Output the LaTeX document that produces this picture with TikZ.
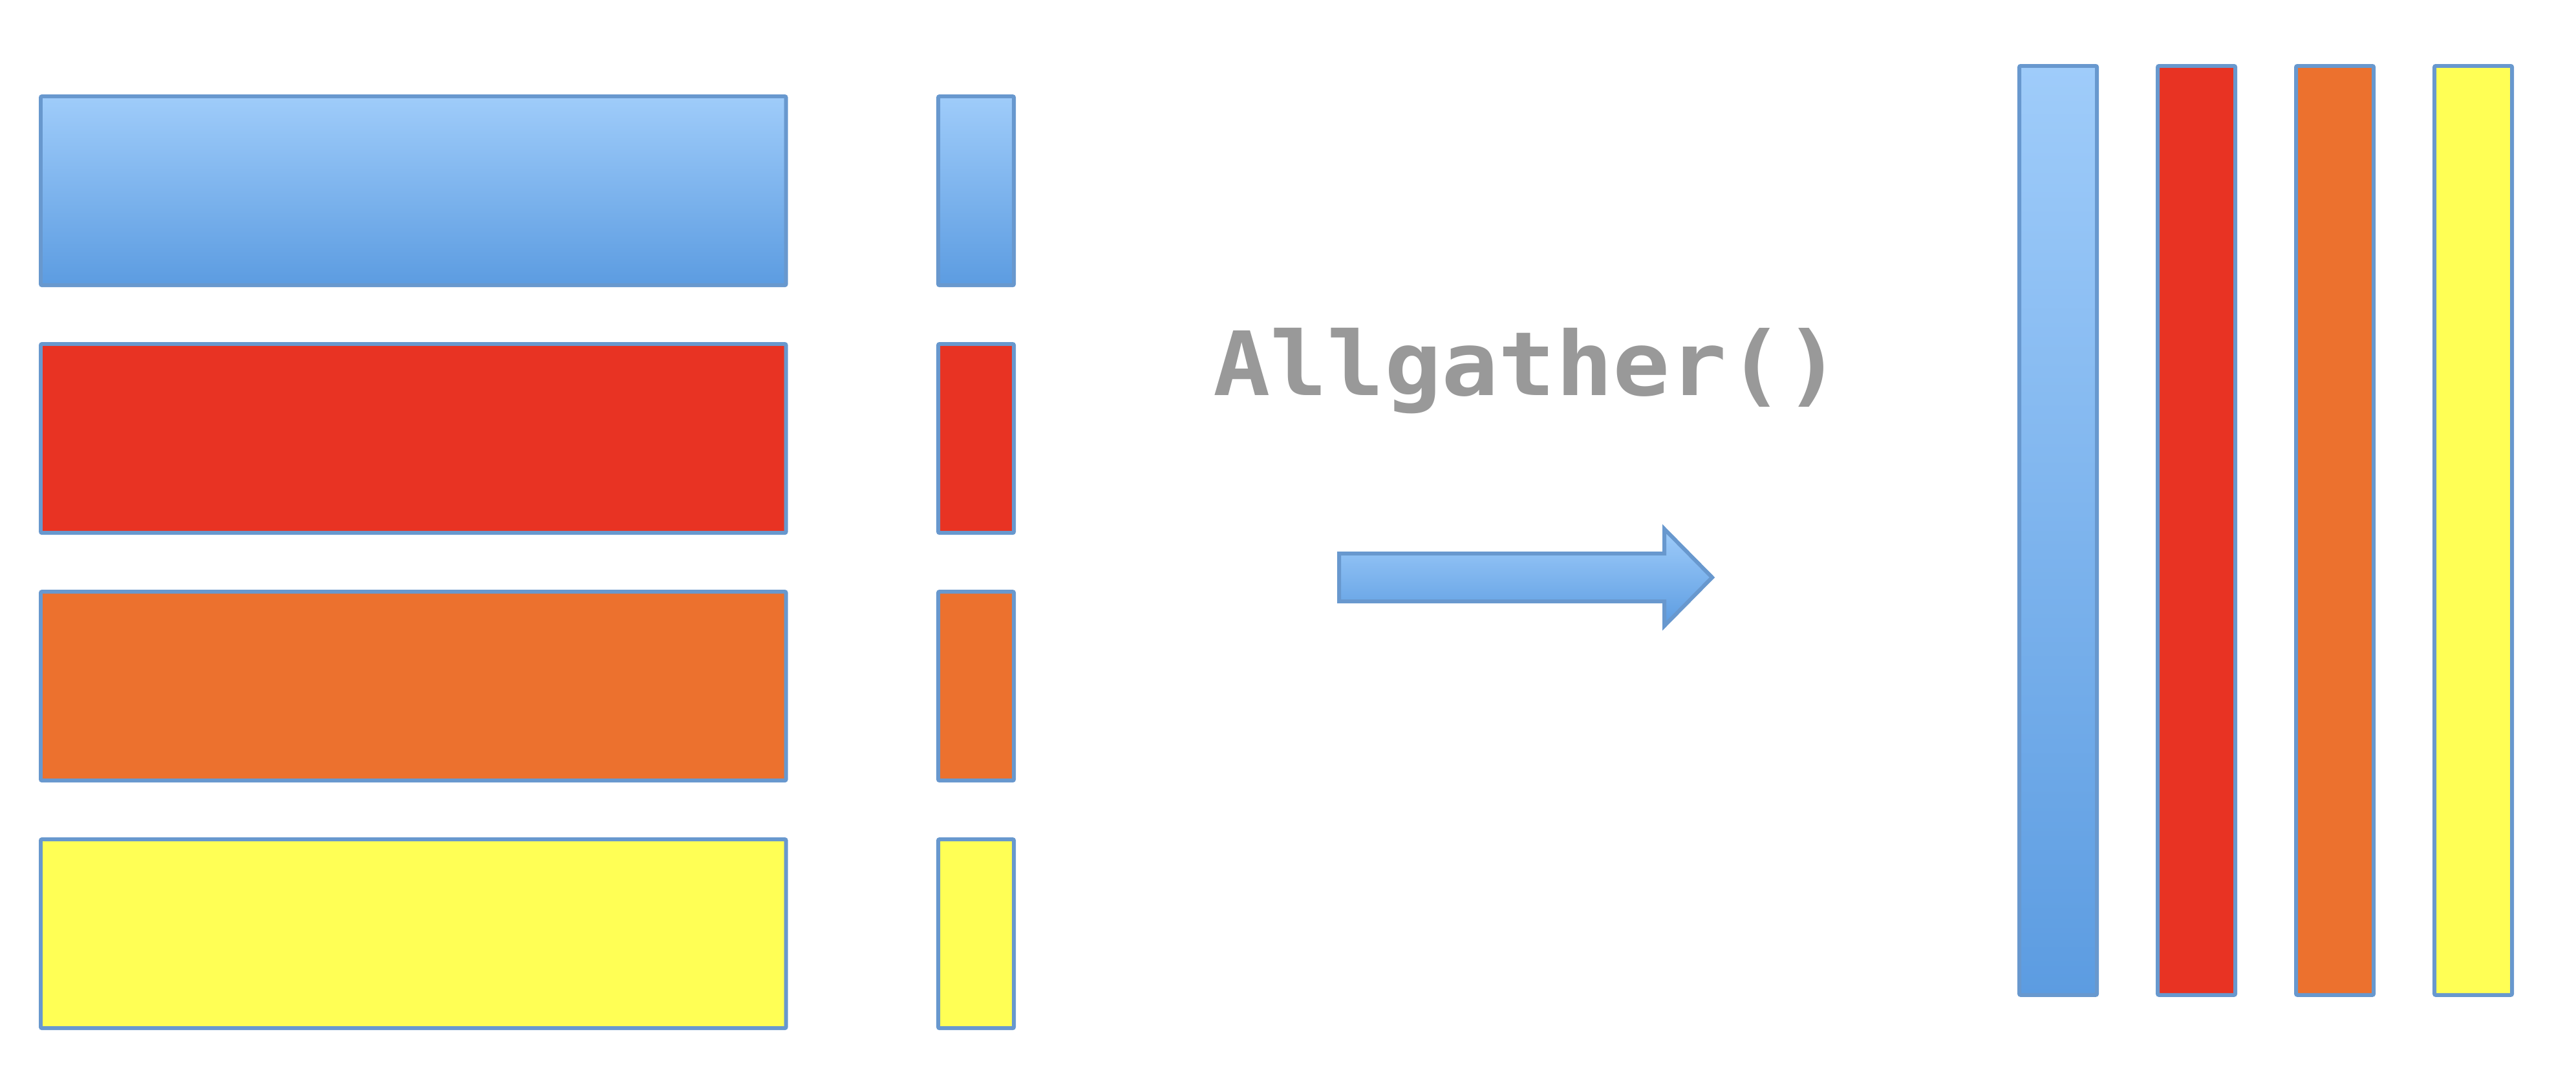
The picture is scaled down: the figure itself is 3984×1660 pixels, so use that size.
\documentclass[tikz,border=0pt]{standalone}
\usepackage{fontspec}
\newfontfamily\codefont{DejaVu Sans Mono}
\definecolor{edge}{HTML}{6898CE}
\definecolor{bluetop}{HTML}{9FCCFA}
\definecolor{bluebot}{HTML}{5C9CE1}
\definecolor{redf}{HTML}{E83323}
\definecolor{orangef}{HTML}{EC712E}
\definecolor{yellowf}{HTML}{FFFF55}
\definecolor{txtgray}{HTML}{999999}
\begin{document}
\begin{tikzpicture}[x=0.01cm,y=-0.01cm,
  cell/.style={draw=edge, line width=1.7pt, rounded corners=0.6pt, anchor=north west, inner sep=0pt, outer sep=0pt},
  wide/.style={cell, minimum width=11.52cm, minimum height=2.92cm},
  narrow/.style={cell, minimum width=1.17cm, minimum height=2.92cm},
  tall/.style={cell, minimum width=1.20cm, minimum height=14.36cm},
  bluegrad/.style={top color=bluetop, bottom color=bluebot},
]
\useasboundingbox (0,0) rectangle (3984,1660);
% left wide rows
\node[wide, bluegrad] (w1) at (63,149) {};
\node[wide, fill=redf] (w2) at (63,532) {};
\node[wide, fill=orangef] (w3) at (63,915) {};
\node[wide, fill=yellowf] (w4) at (63,1298) {};
% small pieces
\node[narrow, bluegrad] (s1) at (1451,149) {};
\node[narrow, fill=redf] (s2) at (1451,532) {};
\node[narrow, fill=orangef] (s3) at (1451,915) {};
\node[narrow, fill=yellowf] (s4) at (1451,1298) {};
% right columns
\node[tall, bluegrad] (c1) at (3123,102) {};
\node[tall, fill=redf] (c2) at (3337,102) {};
\node[tall, fill=orangef] (c3) at (3551,102) {};
\node[tall, fill=yellowf] (c4) at (3765,102) {};
% label
\node[anchor=base, inner sep=0pt, text=txtgray] (lbl) at (2362,611)
  {\scalebox{1.07}[1]{\fontsize{39}{40}\selectfont\codefont\bfseries Allgather()}};
% arrow
\draw[draw=edge, line width=1.7pt, top color=bluetop, bottom color=bluebot, line join=miter]
  (2071,856) -- (2574,856) -- (2574,818) -- (2648,893) -- (2574,968) -- (2574,930) -- (2071,930) -- cycle;
\end{tikzpicture}
\end{document}
